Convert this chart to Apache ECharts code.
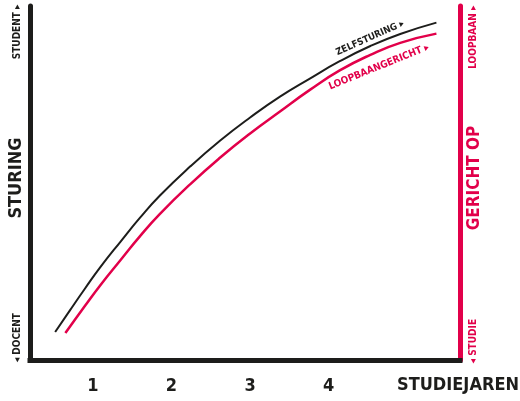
<!DOCTYPE html>
<html>
<head>
<meta charset="utf-8">
<script src="https://cdn.jsdelivr.net/npm/echarts@6/dist/echarts.min.js"></script>
<style>
html,body{margin:0;padding:0;background:#fff;}
#main{width:520px;height:401px;}
</style>
</head>
<body>
<div id="main"></div>
<script>
// Data
const xTicks = [1, 2, 3, 4];
const xName = 'STUDIEJAREN';
const zelfX = [0.52, 0.71, 0.90, 1.09, 1.35, 1.60, 1.85, 2.24, 2.62, 3.00, 3.38, 3.76, 4.14, 4.53, 4.91, 5.37];
const zelfY = [7.9, 14.1, 20.2, 26.1, 33.4, 40.2, 46.4, 54.7, 62.0, 68.5, 74.4, 79.5, 84.4, 88.7, 92.1, 95.3];
const loopX = [0.65, 0.90, 1.09, 1.35, 1.60, 1.85, 2.24, 2.62, 3.00, 3.38, 3.76, 4.14, 4.53, 4.91, 5.37];
const loopY = [7.6, 15.3, 21.0, 28.2, 35.0, 41.2, 49.7, 57.2, 64.0, 70.2, 76.3, 81.8, 86.2, 89.6, 92.2];
const leftLabels = { 92.7: 'STUDENT \u25B8', 6.3: '\u25C2 DOCENT' };
const rightLabels = { 91.2: 'LOOPBAAN \u25B8', 5.3: '\u25C2 STUDIE' };
const leftName = 'STURING';
const rightName = 'GERICHT OP';
const zelfName = 'ZELFSTURING \u25B8';
const loopName = 'LOOPBAANGERICHT \u25B8';

const BLACK = '#1d1d1b';
const RED = '#e2004a';
const FONT = "'Liberation Sans Narrow', 'DejaVu Sans Condensed', 'Liberation Sans', sans-serif";

const zelfData = zelfX.map((x, i) => [x, zelfY[i]]);
const loopData = loopX.map((x, i) => [x, loopY[i]]);

const chart = echarts.init(document.getElementById('main'));
chart.setOption({
  animation: false,
  backgroundColor: '#fff',
  grid: { left: 30, right: 60, top: 6, bottom: 41, containLabel: false, outerBoundsMode: 'none' },
  xAxis: {
    type: 'value', min: 0.2, max: 5.67,
    axisLine: { show: true, lineStyle: { color: BLACK, width: 5, cap: 'square' } },
    axisTick: { show: false },
    splitLine: { show: false },
    axisLabel: {
      customValues: xTicks, margin: 17,
      color: BLACK, fontFamily: FONT, fontWeight: 'bold', fontSize: 18
    },
    name: xName, nameLocation: 'end', nameGap: -2, nameMoveOverlap: false,
    nameTextStyle: {
      color: BLACK, fontFamily: FONT, fontWeight: 'bold', fontSize: 18,
      align: 'center', verticalAlign: 'top', padding: [16, 0, 0, 0]
    }
  },
  yAxis: [{
    type: 'value', min: 0, max: 100, position: 'left',
    axisLine: { show: true, lineStyle: { color: BLACK, width: 5 } },
    axisTick: { show: false },
    splitLine: { show: false },
    axisLabel: {
      customValues: [92.7, 6.3], rotate: 90, margin: 8,
      formatter: v => leftLabels[v] || '',
      color: BLACK, fontFamily: FONT, fontWeight: 'bold', fontSize: 10
    },
    name: leftName, nameLocation: 'middle', nameRotate: 90, nameGap: 5, nameMoveOverlap: false,
    nameTextStyle: { color: BLACK, fontFamily: FONT, fontWeight: 'bold', fontSize: 18, padding: [0, 0, 0, 10] }
  }, {
    type: 'value', min: 0, max: 100, position: 'right',
    axisLine: { show: true, lineStyle: { color: RED, width: 5 } },
    axisTick: { show: false },
    splitLine: { show: false },
    axisLabel: {
      customValues: [91.2, 5.3], rotate: 90, margin: 8,
      formatter: v => rightLabels[v] || '',
      color: RED, fontFamily: FONT, fontWeight: 'bold', fontSize: 10
    },
    name: rightName, nameLocation: 'middle', nameRotate: 90, nameGap: 6, nameMoveOverlap: false,
    nameTextStyle: { color: RED, fontFamily: FONT, fontWeight: 'bold', fontSize: 17, padding: [0, 0, 0, 10] }
  }],
  series: [{
    type: 'line', data: zelfData, smooth: 0.5, showSymbol: false,
    lineStyle: { color: BLACK, width: 2 }, z: 3
  }, {
    type: 'line', data: loopData, smooth: 0.5, showSymbol: false,
    lineStyle: { color: RED, width: 2.5 }, z: 3
  }],
  graphic: [{
    type: 'text', x: 370, y: 38, rotation: 24 * Math.PI / 180,
    style: { text: zelfName, fill: BLACK, font: "bold 9.5px " + FONT, align: 'center', verticalAlign: 'middle' }
  }, {
    type: 'text', x: 379, y: 67, rotation: 22 * Math.PI / 180,
    style: { text: loopName, fill: RED, font: "bold 10px " + FONT, align: 'center', verticalAlign: 'middle' }
  }]
});
</script>
</body>
</html>
